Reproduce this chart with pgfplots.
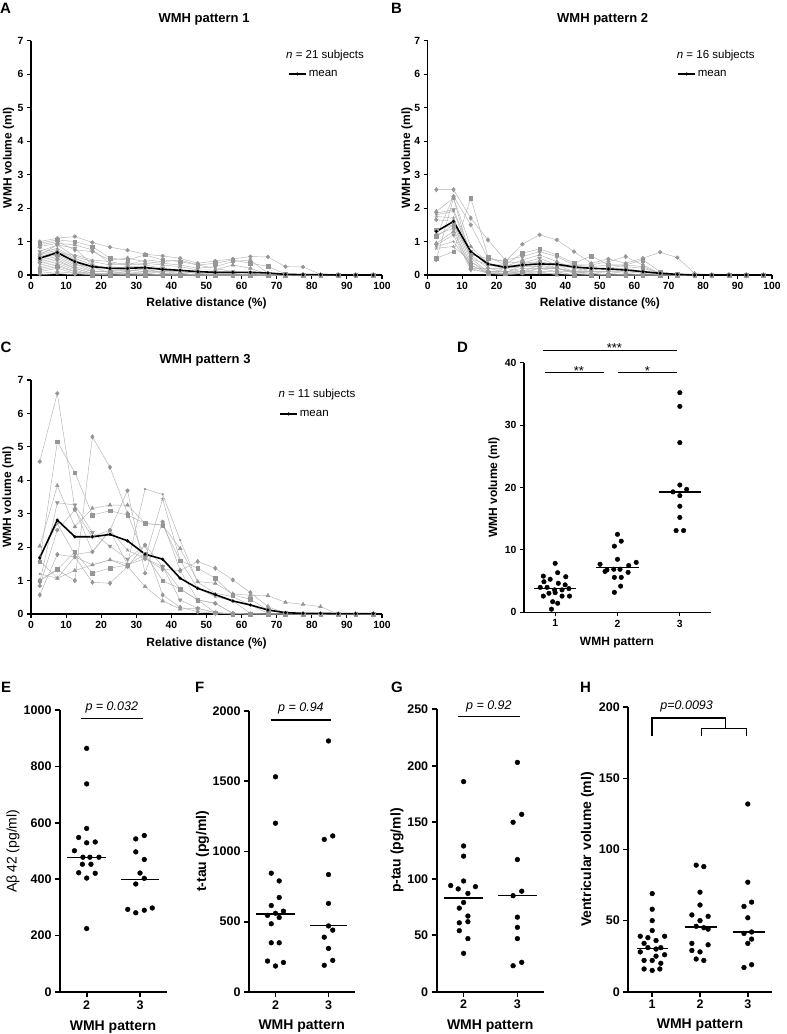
\documentclass[border=0pt]{standalone}
\usepackage{fontspec}
\setmainfont{Liberation Sans}
\usepackage{pgfplots}
\usepackage{pgfplotstable}
\pgfplotsset{compat=1.18}

\definecolor{lg}{RGB}{178,178,178}
\definecolor{mg}{RGB}{150,150,150}

\pgfplotscreateplotcyclelist{subj}{
{lg,line width=0.45pt,mark=*,mark size=1.9pt,mark options={draw=mg,fill=mg}},
{lg,line width=0.45pt,mark=square*,mark size=1.8pt,mark options={draw=mg,fill=mg}},
{lg,line width=0.45pt,mark=diamond*,mark size=2.3pt,mark options={draw=mg,fill=mg}},
{lg,line width=0.45pt,mark=triangle*,mark size=2.2pt,mark options={draw=mg,fill=mg}},
{lg,line width=0.45pt,mark=triangle*,mark size=2.2pt,mark options={draw=mg,fill=mg,rotate=180}},
{lg,line width=0.45pt,mark=*,mark size=0.9pt,mark options={draw=mg,fill=mg}},
{lg,line width=0.45pt,mark=star,mark size=1.8pt,mark options={draw=mg,line width=0.6pt}}}

\pgfplotstableread{
name c1 c2 c3 c4 c5 c6 c7 c8 c9 c10 c11 c12 c13 c14 c15 c16 c17 c18 c19 c20
x 2.5 7.5 12.5 17.5 22.5 27.5 32.5 37.5 42.5 47.5 52.5 57.5 62.5 67.5 72.5 77.5 82.5 87.5 92.5 97.5
a1 1.00 1.10 1.15 0.97 0.83 0.74 0.62 0.57 0.50 0.35 0.42 0.48 0.55 0.54 0.25 0.24 0.02 0 0 0
a2 0.95 1.05 1.00 0.85 0.50 0.45 0.60 0.45 0.40 0.30 0.35 0.45 0.35 0.26 0.03 0 0 0 0 0
a3 0.90 1.00 0.75 0.70 0.45 0.50 0.40 0.35 0.30 0.20 0.25 0.40 0.45 0.05 0 0 0 0 0 0
a4 0.85 0.95 0.90 0.75 0.35 0.30 0.35 0.30 0.25 0.15 0.15 0.30 0.20 0.02 0 0 0 0 0 0
a5 0.70 0.90 0.55 0.40 0.30 0.35 0.30 0.20 0.15 0.10 0.10 0.10 0.05 0 0 0 0 0 0 0
a6 0.65 0.80 0.50 0.30 0.20 0.25 0.25 0.15 0.10 0.05 0.05 0.05 0 0 0 0 0 0 0 0
a7 0.60 0.75 0.45 0.20 0.25 0.20 0.15 0.10 0.10 0.05 0 0 0 0 0 0 0 0 0 0
a8 0.55 0.70 0.40 0.15 0.15 0.10 0.20 0.05 0.05 0 0 0 0 0 0 0 0 0 0 0
a9 0.50 0.60 0.35 0.10 0.10 0.15 0.10 0.05 0 0 0 0 0 0 0 0 0 0 0 0
a10 0.45 0.55 0.30 0.25 0.05 0.05 0.05 0 0 0 0 0 0 0 0 0 0 0 0 0
a11 0.40 0.50 0.25 0.10 0.10 0.05 0 0 0 0 0 0 0 0 0 0 0 0 0 0
a12 0.35 0.45 0.20 0.05 0.05 0.10 0.05 0 0 0 0 0 0 0 0 0 0 0 0 0
a13 0.30 0.40 0.20 0.05 0 0 0 0 0 0 0 0 0 0 0 0 0 0 0 0
a14 0.25 0.35 0.15 0 0.05 0 0 0 0 0 0 0 0 0 0 0 0 0 0 0
a15 0.20 0.30 0.10 0.05 0 0 0 0 0 0 0 0 0 0 0 0 0 0 0 0
a16 0.15 0.25 0.10 0 0 0 0 0 0 0 0 0 0 0 0 0 0 0 0 0
a17 0.10 0.20 0.05 0 0 0 0 0 0 0 0 0 0 0 0 0 0 0 0 0
a18 0.05 0.10 0.05 0 0 0 0 0 0 0 0 0 0 0 0 0 0 0 0 0
a19 0.60 0.90 0.80 0.30 0.20 0.15 0.10 0.10 0.05 0 0 0 0 0 0 0 0 0 0 0
a20 0.80 0.65 0.60 0.45 0.40 0.30 0.45 0.40 0.45 0.30 0.20 0.10 0.05 0 0 0 0 0 0 0
a21 0 0.05 0 0 0 0 0 0 0 0 0 0 0 0 0 0 0 0 0 0
m 0.50 0.67 0.40 0.25 0.20 0.20 0.22 0.17 0.14 0.10 0.08 0.08 0.08 0.06 0.02 0.01 0.01 0 0 0
}\tabAraw
\pgfplotstabletranspose[colnames from=name]{\tabA}{\tabAraw}

\pgfplotstableread{
name c1 c2 c3 c4 c5 c6 c7 c8 c9 c10 c11 c12 c13 c14 c15 c16 c17 c18 c19 c20
x 2.5 7.5 12.5 17.5 22.5 27.5 32.5 37.5 42.5 47.5 52.5 57.5 62.5 67.5 72.5 77.5 82.5 87.5 92.5 97.5
b1 1.15 2.35 1.50 0.50 0.40 0.92 1.20 1.05 0.70 0.35 0.48 0.35 0.50 0.68 0.52 0.05 0 0 0 0
b2 0.50 0.70 2.30 0.55 0.30 0.65 0.78 0.60 0.35 0.57 0.30 0.30 0.45 0.10 0.02 0 0 0 0 0
b3 2.55 2.55 1.70 1.05 0.45 0.55 0.70 0.55 0.30 0.30 0.40 0.55 0.30 0.05 0 0 0 0 0 0
b4 1.90 2.30 0.85 0.35 0.25 0.45 0.60 0.40 0.20 0.20 0.20 0.20 0.10 0 0 0 0 0 0 0
b5 1.85 1.95 0.70 0.30 0.20 0.35 0.50 0.30 0.20 0.10 0.10 0.05 0 0 0 0 0 0 0 0
b6 1.80 1.90 0.60 0.20 0.20 0.25 0.40 0.20 0.10 0.10 0.05 0 0 0 0 0 0 0 0 0
b7 1.75 1.70 0.50 0.10 0.10 0.10 0.30 0.30 0.10 0.05 0 0 0 0 0 0 0 0 0 0
b8 1.65 1.60 0.40 0.10 0.10 0.05 0.20 0.20 0.05 0 0 0 0 0 0 0 0 0 0 0
b9 1.35 1.50 0.30 0.05 0.05 0.10 0.10 0.10 0 0 0 0 0 0 0 0 0 0 0 0
b10 1.20 1.40 0.20 0.20 0.10 0.20 0.20 0.10 0.10 0 0 0 0 0 0 0 0 0 0 0
b11 0.95 1.30 0.20 0.05 0.05 0.05 0.10 0 0 0 0 0 0 0 0 0 0 0 0 0
b12 0.90 1.20 0.15 0.10 0.05 0.30 0.30 0.20 0.10 0.10 0.10 0.10 0.05 0 0 0 0 0 0 0
b13 0.85 1.00 0.30 0.05 0 0.05 0.05 0.05 0 0 0 0 0 0 0 0 0 0 0 0
b14 0.80 0.85 0.40 0.05 0.20 0.10 0.20 0.20 0.10 0.05 0 0 0 0 0 0 0 0 0 0
b15 0.45 2.30 0.50 0.30 0.30 0.25 0.25 0.20 0.10 0.20 0.20 0.30 0.25 0.05 0 0 0 0 0 0
b16 1.15 1.50 0.60 0.50 0.40 0.35 0.40 0.30 0.30 0.25 0.30 0.25 0.20 0.05 0 0 0 0 0 0
m 1.30 1.60 0.70 0.33 0.23 0.30 0.33 0.32 0.24 0.20 0.18 0.15 0.10 0.05 0.02 0 0 0 0 0
}\tabBraw
\pgfplotstabletranspose[colnames from=name]{\tabB}{\tabBraw}

\pgfplotstableread{
name c1 c2 c3 c4 c5 c6 c7 c8 c9 c10 c11 c12 c13 c14 c15 c16 c17 c18 c19 c20
x 2.5 7.5 12.5 17.5 22.5 27.5 32.5 37.5 42.5 47.5 52.5 57.5 62.5 67.5 72.5 77.5 82.5 87.5 92.5 97.5
c1 4.56 6.60 3.15 1.86 2.50 1.47 1.66 1.42 0.75 0.42 0.32 0.02 0 0 0 0 0 0 0 0
c2 1.57 5.15 4.23 2.96 3.09 2.96 2.71 2.66 1.60 1.37 1.07 0.57 0.44 0.12 0.02 0 0 0 0 0
c3 1.00 1.32 1.00 5.30 4.39 3.01 1.66 1.34 1.30 1.57 1.37 1.02 0.64 0.22 0.02 0 0 0 0 0
c4 2.03 3.84 2.61 3.16 3.26 3.26 2.71 2.66 1.96 0.97 0.92 0.60 0.56 0.55 0.35 0.29 0.22 0 0 0
c5 0.95 3.33 3.26 2.44 2.03 1.64 2.06 1.42 0.42 0.17 0.04 0.02 0 0 0 0 0 0 0 0
c6 1.20 1.07 1.71 1.47 1.62 1.50 3.74 3.58 2.21 0.95 0.62 0.52 0.27 0.02 0 0 0 0 0 0
c7 1.72 2.70 1.78 1.86 2.51 1.91 1.66 3.44 1.60 0.77 0.52 0.39 0.02 0 0 0 0 0 0 0
c8 0.84 2.51 3.11 2.31 2.51 3.69 1.22 2.76 1.30 0.42 0.32 0.02 0 0 0 0 0 0 0 0
c9 1.00 1.34 1.86 1.22 1.37 1.47 1.79 1.00 0.75 0.42 0.04 0 0 0 0 0 0 0 0 0
c10 0.57 1.78 1.71 0.95 0.92 1.42 2.06 0.57 0.20 0.07 0.02 0 0 0 0 0 0 0 0 0
c11 1.60 1.07 1.30 1.47 1.62 1.42 0.82 0.39 0.15 0.17 0.04 0 0 0 0 0 0 0 0 0
m 1.68 2.81 2.31 2.31 2.38 2.19 1.79 1.64 1.07 0.77 0.58 0.39 0.27 0.12 0.04 0.02 0.02 0.01 0.01 0.01
}\tabCraw
\pgfplotstabletranspose[colnames from=name]{\tabC}{\tabCraw}

\pgfplotsset{
  base/.style={scale only axis, axis x line*=bottom, axis y line*=left,
    tick align=outside, clip=false, anchor=south west,
    /pgf/number format/assume math mode=true, /pgf/number format/1000 sep={},
    scaled ticks=false, major tick length=4pt,
    axis line style={line width=1.1pt}, major tick style={line width=1.1pt,black}},
  dist/.style={base, xmin=0, xmax=100, ymin=0, ymax=7,
    xtick={0,10,...,100}, ytick={0,1,...,7},
    tick label style={font=\bfseries\fontsize{10.4}{12}\selectfont},
    label style={font=\bfseries\fontsize{12}{14}\selectfont},
    xlabel={Relative distance (\%)}, ylabel={WMH volume (ml)},
    cycle list name=subj,
    legend style={draw=none, fill=none, inner sep=0pt, anchor=west,
      font=\fontsize{11.5}{13}\selectfont}},
  meanline/.style={black, line width=1.6pt, mark=*, mark size=0.6pt},
  dot/.style={base, axis line style={line width=1.7pt},
    major tick style={line width=1.7pt,black}, major tick length=5pt,
    tick label style={font=\bfseries\fontsize{12.5}{14}\selectfont},
    label style={font=\bfseries\fontsize{14}{16}\selectfont},
    xlabel={WMH pattern}},
  pts/.style={only marks, mark=*, mark size=2.4pt, black},
}

\begin{document}
\begin{tikzpicture}
\path[use as bounding box] (0pt,0pt) rectangle (787pt,-1034pt);

% ---------------- A
\begin{axis}[dist, at={(31pt,-275pt)}, width=351pt, height=234.3pt,
  xlabel style={at={(axis description cs:0.5,-0.12)}, anchor=center},
  ylabel style={at={(axis description cs:-0.064,0.5)}, anchor=center},
  legend style={at={(0.732,0.858)}}]
\addlegendimage{meanline}
\addlegendentry{mean}
\pgfplotsinvokeforeach{1,...,21}{\addplot table[x=x,y=a#1]{\tabA};}
\addplot[meanline] table[x=x,y=m]{\tabA};
\end{axis}

% ---------------- B
\begin{axis}[dist, at={(427.7pt,-275pt)}, width=344.3pt, height=234.3pt,
  xlabel style={at={(axis description cs:0.5,-0.12)}, anchor=center},
  ylabel style={at={(axis description cs:-0.060,0.5)}, anchor=center},
  legend style={at={(0.724,0.858)}}]
\addlegendimage{meanline}
\addlegendentry{mean}
\pgfplotsinvokeforeach{1,...,16}{\addplot table[x=x,y=b#1]{\tabB};}
\addplot[meanline] table[x=x,y=m]{\tabB};
\end{axis}

% ---------------- C
\begin{axis}[dist, at={(31pt,-614pt)}, width=351pt, height=234pt,
  xlabel style={at={(axis description cs:0.5,-0.124)}, anchor=center},
  ylabel style={at={(axis description cs:-0.0655,0.5)}, anchor=center},
  legend style={at={(0.7066,0.855)}}]
\addlegendimage{meanline}
\addlegendentry{mean}
\pgfplotsinvokeforeach{1,...,11}{\addplot table[x=x,y=c#1]{\tabC};}
\addplot[meanline] table[x=x,y=m]{\tabC};
\end{axis}

% ---------------- D
\begin{axis}[base, at={(524pt,-612.3pt)}, width=187pt, height=249.6pt,
  xmin=0.5, xmax=3.5, ymin=0, ymax=40, xtick={1,2,3}, ytick={0,10,...,40},
  tick label style={font=\bfseries\fontsize{10.4}{12}\selectfont},
  label style={font=\bfseries\fontsize{12}{14}\selectfont},
  xlabel={WMH pattern}, ylabel={WMH volume (ml)},
  xlabel style={at={(axis description cs:0.497,-0.123)}, anchor=center},
  ylabel style={at={(axis description cs:-0.16,0.5)}, anchor=center}]
\addplot[pts, mark size=2.3pt] table {
x y
1.00 7.85
0.81 5.8
1.04 6.35
0.92 5.3
1.17 5.7
0.76 4.0
0.87 4.0
1.05 4.65
1.22 3.8
0.99 3.6
1.11 3.6
0.81 2.6
0.90 3.05
1.00 3.15
1.11 2.6
1.23 2.6
0.96 1.7
1.04 1.45
0.94 0.5
0.82 4.9
1.16 4.4
2.00 12.5
2.06 11.4
1.95 10.6
2.00 8.5
1.72 7.7
2.30 8.0
1.83 6.8
1.94 6.9
2.04 6.9
2.18 7.5
1.80 6.55
1.95 5.6
2.06 5.6
2.17 6.4
2.05 4.2
1.95 3.2
3.00 35.2
3.00 33.0
3.00 27.2
3.00 20.4
2.89 19.3
3.11 19.7
3.00 18.7
3.00 17.0
3.00 15.2
2.94 13.1
3.06 13.1
};
\addplot[black, line width=1.3pt] coordinates {(0.66,3.8) (1.34,3.8)};
\addplot[black, line width=1.3pt] coordinates {(1.65,7.15) (2.35,7.15)};
\addplot[black, line width=1.3pt] coordinates {(2.66,19.3) (3.34,19.3)};
\draw[line width=0.9pt] (axis cs:0.81,42) -- (axis cs:2.95,42);
\draw[line width=0.9pt] (axis cs:0.84,38.4) -- (axis cs:1.78,38.4);
\draw[line width=0.9pt] (axis cs:2.0,38.4) -- (axis cs:2.95,38.4);
\node[font=\fontsize{13}{14}\selectfont, anchor=base] at (axis cs:1.95,41.6) {***};
\node[font=\fontsize{13}{14}\selectfont, anchor=base] at (axis cs:1.38,38.0) {**};
\node[font=\fontsize{13}{14}\selectfont, anchor=base] at (axis cs:2.48,38.0) {*};
\end{axis}

% ---------------- E
\begin{axis}[dot, at={(60pt,-992pt)}, width=106.7pt, height=282pt,
  xmin=1.5, xmax=3.5, ymin=0, ymax=1000, xtick={2,3}, ytick={0,200,...,1000},
  ylabel={Aβ\,42 (pg/ml)},
  xlabel style={at={(axis description cs:0.497,-0.123)}, anchor=center},
  ylabel style={at={(axis description cs:-0.44,0.5)}, anchor=center, font=\fontsize{14}{16}\selectfont}]
\addplot[pts] table {
x y
2.00 864
2.00 738
2.00 580
1.85 548
2.00 529
2.16 532
1.77 501
1.93 478
2.06 478
2.23 478
1.92 453
2.08 453
1.85 423
2.00 404
2.16 421
2.00 225
3.08 555
2.92 543
2.92 497
3.08 470
3.00 422
3.08 403
2.92 383
3.23 298
2.77 293
3.08 290
2.92 281
};
\addplot[black, line width=1.3pt] coordinates {(1.64,478) (2.36,478)};
\addplot[black, line width=1.3pt] coordinates {(2.645,400) (3.355,400)};
\draw[line width=1.6pt] (axis cs:1.9,970) -- (axis cs:3.05,970);
\node[font=\itshape\fontsize{12.5}{14}\selectfont] at (axis cs:2.47,1008) {p = 0.032};
\end{axis}

% ---------------- F
\begin{axis}[dot, at={(249pt,-992pt)}, width=106pt, height=281.3pt,
  xmin=1.5, xmax=3.5, ymin=0, ymax=2000, xtick={2,3}, ytick={0,500,...,2000},
  ylabel={t-tau (pg/ml)},
  xlabel style={at={(axis description cs:0.497,-0.123)}, anchor=center},
  ylabel style={at={(axis description cs:-0.439,0.5)}, anchor=center}]
\addplot[pts] table {
x y
2.00 1530
2.00 1200
1.92 845
2.07 790
2.07 672
1.92 615
2.15 575
2.00 560
2.07 530
1.92 485
1.92 350
2.07 350
1.85 220
2.15 210
2.00 185
1.85 545
3.00 1785
3.08 1110
2.92 1085
3.00 835
3.00 630
3.00 470
3.08 440
2.92 390
3.00 310
3.08 225
2.92 190
};
\addplot[black, line width=1.3pt] coordinates {(1.64,555) (2.36,555)};
\addplot[black, line width=1.3pt] coordinates {(2.645,475) (3.355,475)};
\draw[line width=1.6pt] (axis cs:1.91,1936) -- (axis cs:3.05,1936);
\node[font=\itshape\fontsize{12.5}{14}\selectfont] at (axis cs:2.48,2014) {p = 0.94};
\end{axis}

% ---------------- G
\begin{axis}[dot, at={(436.7pt,-991.7pt)}, width=107.6pt, height=282.4pt,
  xmin=1.5, xmax=3.5, ymin=0, ymax=250, xtick={2,3}, ytick={0,50,...,250},
  ylabel={p-tau (pg/ml)},
  xlabel style={at={(axis description cs:0.497,-0.123)}, anchor=center},
  ylabel style={at={(axis description cs:-0.369,0.5)}, anchor=center}]
\addplot[pts] table {
x y
2.00 186
2.00 129
2.00 120
2.00 98
1.76 94
1.90 91
2.22 93
2.08 87
2.00 79
1.92 74
2.08 67
1.92 61
2.08 62
1.92 54
2.08 47
2.00 34
3.00 203
3.08 157
2.92 150
3.00 117
3.08 89
2.92 85
3.00 66
3.00 57
3.00 47
3.08 26
2.92 23
};
\addplot[black, line width=1.3pt] coordinates {(1.64,83) (2.36,83)};
\addplot[black, line width=1.3pt] coordinates {(2.645,85) (3.355,85)};
\draw[line width=1.6pt] (axis cs:1.89,243.6) -- (axis cs:3.05,243.6);
\node[font=\itshape\fontsize{12.5}{14}\selectfont] at (axis cs:2.47,252.5) {p = 0.92};
\end{axis}

% ---------------- H
\begin{axis}[dot, at={(628.3pt,-991.7pt)}, width=143.4pt, height=284.4pt,
  xmin=0.5, xmax=3.5, ymin=0, ymax=200, xtick={1,2,3}, ytick={0,50,...,200},
  ylabel={Ventricular volume (ml)},
  xlabel style={at={(axis description cs:0.5,-0.117)}, anchor=center},
  ylabel style={at={(axis description cs:-0.285,0.5)}, anchor=center}]
\addplot[pts] table {
x y
1.00 69
1.00 58
1.00 50
1.00 43
0.75 39
0.91 38
1.26 39
1.08 36
0.83 34
1.18 31
1.08 30
0.91 31
0.75 28
1.26 26
1.08 25
0.83 22
1.00 22
1.18 20
0.83 16
1.16 16
1.00 15
1.92 89
2.08 88
2.00 70
2.00 61
1.83 54
2.17 53
2.00 50
1.92 46
2.08 45
2.17 44
1.83 34
2.17 33
1.83 29
2.00 28
1.92 23
2.08 22
3.00 132
3.00 77
3.08 63
2.92 60
3.00 52
3.08 42
2.92 41
3.08 37
3.00 34
3.08 19
2.92 17
};
\addplot[black, line width=1.3pt] coordinates {(0.68,30.5) (1.33,30.5)};
\addplot[black, line width=1.3pt] coordinates {(1.68,45.5) (2.35,45.5)};
\addplot[black, line width=1.3pt] coordinates {(2.68,42) (3.35,42)};
\draw[line width=1.6pt] (axis cs:1,179.8) -- (axis cs:1,192.3) -- (axis cs:2.53,192.3) -- (axis cs:2.53,185.2);
\draw[line width=1.6pt] (axis cs:2.03,179.8) -- (axis cs:2.03,185.2) -- (axis cs:2.97,185.2) -- (axis cs:2.97,179.8);
\node[font=\itshape\fontsize{12.5}{14}\selectfont] at (axis cs:1.72,200.6) {p=0.0093};
\end{axis}

% ---------------- titles, letters, annotations
\node[font=\bfseries\fontsize{13}{15}\selectfont] at (204pt,-19pt) {WMH pattern 1};
\node[font=\bfseries\fontsize{13}{15}\selectfont] at (602.7pt,-19pt) {WMH pattern 2};
\node[font=\bfseries\fontsize{13}{15}\selectfont] at (205pt,-360pt) {WMH pattern 3};

\node[font=\fontsize{11.5}{13}\selectfont, anchor=base west, inner sep=0pt] at (286pt,-58pt) {\textit{n} = 21 subjects};
\node[font=\fontsize{11.5}{13}\selectfont, anchor=base west, inner sep=0pt] at (676.7pt,-58pt) {\textit{n} = 16 subjects};
\node[font=\fontsize{11.5}{13}\selectfont, anchor=base west, inner sep=0pt] at (278.3pt,-397.5pt) {\textit{n} = 11 subjects};

\foreach \l/\x/\y in {A/0/-13.5, B/391/-13.5, C/0.5/-352, D/457/-352, E/1/-692, F/195/-692, G/391/-692, H/580/-692}
  \node[font=\bfseries\fontsize{15}{17}\selectfont, anchor=base west, inner sep=0pt] at (\x pt,\y pt) {\l};
\end{tikzpicture}
\end{document}
